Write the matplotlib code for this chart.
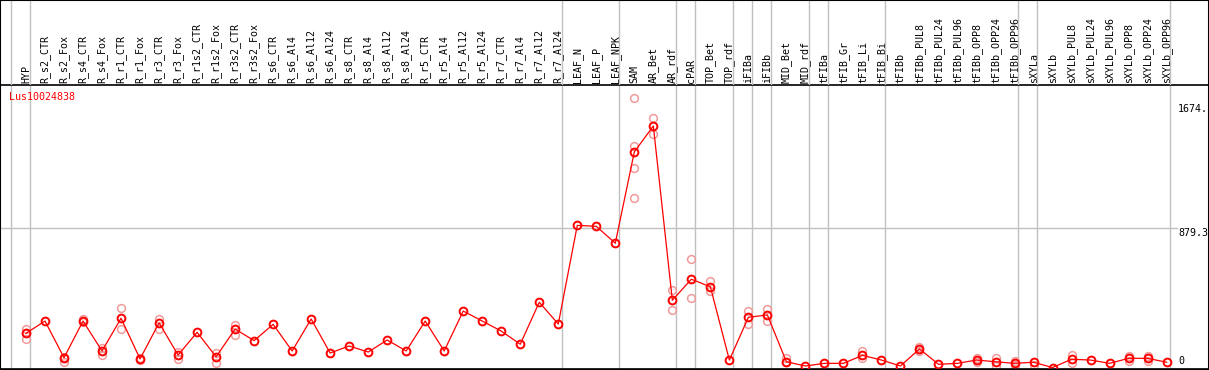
import numpy as np
import matplotlib
matplotlib.use('Agg')
import matplotlib.pyplot as plt
from matplotlib.patches import Rectangle

gene = 'Lus10024838'

samples = ['HYP', 'R_s2_CTR', 'R_s2_Fox', 'R_s4_CTR', 'R_s4_Fox', 'R_r1_CTR', 'R_r1_Fox',
           'R_r3_CTR', 'R_r3_Fox', 'R_r1s2_CTR', 'R_r1s2_Fox', 'R_r3s2_CTR', 'R_r3s2_Fox',
           'R_s6_CTR', 'R_s6_Al4', 'R_s6_Al12', 'R_s6_Al24', 'R_s8_CTR', 'R_s8_Al4',
           'R_s8_Al12', 'R_s8_Al24', 'R_r5_CTR', 'R_r5_Al4', 'R_r5_Al12', 'R_r5_Al24',
           'R_r7_CTR', 'R_r7_Al4', 'R_r7_Al12', 'R_r7_Al24', 'LEAF_N', 'LEAF_P', 'LEAF_NPK',
           'SAM', 'AR_Bet', 'AR_rdf', 'cPAR', 'TOP_Bet', 'TOP_rdf', 'iFIBa', 'iFIBb',
           'MID_Bet', 'MID_rdf', 'tFIBa', 'tFIB_Gr', 'tFIB_Li', 'tFIB_Bi', 'tFIBb',
           'tFIBb_PUL8', 'tFIBb_PUL24', 'tFIBb_PUL96', 'tFIBb_OPP8', 'tFIBb_OPP24',
           'tFIBb_OPP96', 'sXYLa', 'sXYLb', 'sXYLb_PUL8', 'sXYLb_PUL24', 'sXYLb_PUL96',
           'sXYLb_OPP8', 'sXYLb_OPP24', 'sXYLb_OPP96']

# sizes of the sample groups (separated by grey lines)
group_sizes = [1, 28, 3, 3, 1, 2, 1, 1, 2, 1, 3, 7, 1, 7]

mean_expr = [209, 287, 53, 287, 96, 305, 45, 276, 70, 215, 59, 236, 162,
             266, 96, 300, 83, 128, 89, 166, 96, 287, 96, 351, 287,
             223, 139, 407, 268, 898, 892, 784,
             1367, 1533, 420, 554, 506, 38, 311, 326,
             27, 0, 17, 17, 68, 38, 0,
             109, 11, 17, 38, 27, 17,
             24, -10, 43, 38, 17, 49, 49, 24]

# individual replicates
replicates = [[234, 171, 211], [], [59, 27], [300, 283], [117, 70], [368, 234], [49, 38],
              [300, 236], [91, 43], [], [85, 21], [262, 198], [], [], [], [], [], [], [],
              [], [], [], [], [], [], [], [], [], [], [], [], [],
              [1709, 1405, 1262, 1071], [1582, 1480], [485, 358], [681, 432], [543, 481],
              [], [351, 268], [364, 287], [49, 27], [], [], [], [96, 49], [], [],
              [123, 98], [], [], [53, 27], [53, 0], [34, 6], [6], [], [70, 17], [], [],
              [66, 34], [66, 30], []]

yticks = [0, 879.3, 1674]
ytick_labels = ['0', '879.3', '1674.']

W, H = 1209, 370
fig = plt.figure(figsize=(W / 100, H / 100), dpi=100)
mono = 'DejaVu Sans Mono'

# plot area: x 0..1208 px, y 85..369 px (from top)
ax = fig.add_axes([0, 1 / H, 1208 / W, 284 / H])
ax_h = fig.add_axes([0, 285 / H, 1208 / W, 85 / H], sharex=ax)

x = np.arange(len(samples))
step = 19.01
ax.set_xlim(-26 / step, (1208 - 26) / step)
s = 0.1566
ax.set_ylim((366 - 369) / s, (366 - 85) / s)

grid_c = '#c0c0c0'
bounds = [-0.8] + list(np.cumsum(group_sizes) - 1 + 0.2)
for b in bounds:
    ax.axvline(b, color=grid_c, lw=1, zorder=0)
    ax_h.axvline(b, color=grid_c, lw=1, zorder=0)
ax.axhline(yticks[1], xmax=1177 / 1208, color=grid_c, lw=1, zorder=0)

rx, ry = [], []
for i, r in enumerate(replicates):
    rx += [i] * len(r)
    ry += r
ax.plot(rx, ry, 'o', ms=5.6, mfc='none', mec='#f09a9a', mew=1.1, zorder=2)
ax.plot(x, mean_expr, color='red', lw=0.9, zorder=3)
ax.plot(x, mean_expr, 'o', ms=5.6, mfc='none', mec='red', mew=1.4, zorder=4)

ax.set_yticks([])
ax.set_xticks(x, samples, rotation=90, fontfamily=mono, fontsize=7.2)
ax.tick_params(axis='x', bottom=False, labelbottom=False, top=False, labeltop=True,
               length=0, pad=1.2)
for sp in ['left', 'bottom', 'top']:
    ax.spines[sp].set_color('black')
    ax.spines[sp].set_linewidth(1.2)
ax.spines['right'].set_visible(False)

ax.text(9 / 1208, (369 - 92) / 284, gene, transform=ax.transAxes, color='red',
        fontfamily=mono, fontsize=7.2, ha='left', va='top')

trans = ax.get_yaxis_transform()
for v, lab in zip(yticks, ytick_labels):
    ax.text(1178 / 1208, v, lab, transform=trans, fontfamily=mono, fontsize=7.2,
            ha='left', va='bottom' if v == 0 else 'top')

ax_h.set_ylim(0, 1)
ax_h.axis('off')

fig.patches.append(Rectangle((0, 0), 1, 1, transform=fig.transFigure, fill=False,
                             edgecolor='black', lw=1.5))

fig.savefig('out.png', dpi=100)
